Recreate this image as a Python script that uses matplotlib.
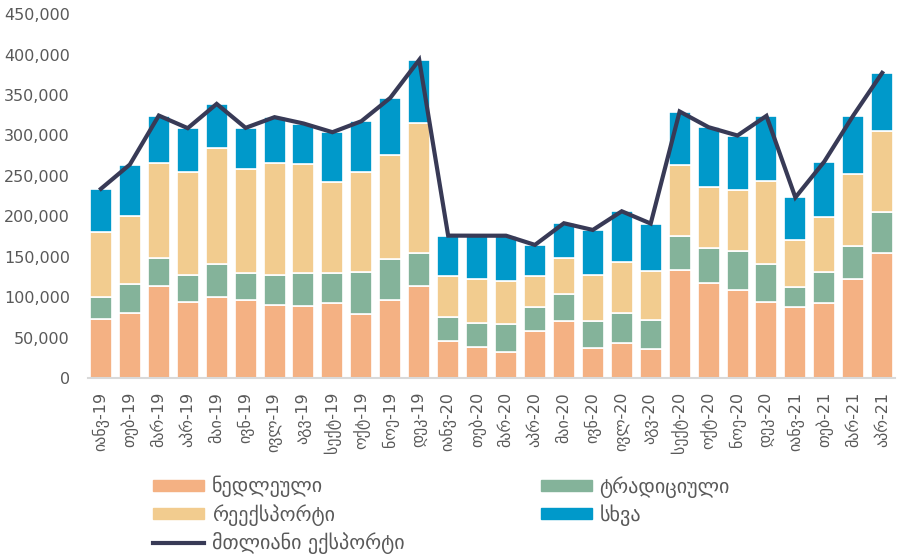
import matplotlib.pyplot as plt
import numpy as np
from matplotlib.patches import Patch
from matplotlib.lines import Line2D
from matplotlib.ticker import FuncFormatter

plt.rcParams['font.family'] = ['DejaVu Sans']

months = ['იანვ-19', 'თებ-19', 'მარ-19', 'აპრ-19', 'მაი-19', 'ივნ-19', 'ივლ-19',
          'აგვ-19', 'სექტ-19', 'ოქტ-19', 'ნოე-19', 'დეკ-19',
          'იანვ-20', 'თებ-20', 'მარ-20', 'აპრ-20', 'მაი-20', 'ივნ-20', 'ივლ-20',
          'აგვ-20', 'სექტ-20', 'ოქტ-20', 'ნოე-20', 'დეკ-20',
          'იანვ-21', 'თებ-21', 'მარ-21', 'აპრ-21']

# thousand USD
raw = [72.6, 80.0, 114.3, 94.5, 99.8, 96.5, 90.3, 89.5, 92.4, 78.8, 96.5, 114.3,
       46.2, 38.0, 31.8, 58.6, 71.0, 36.7, 42.9, 35.9, 133.7, 118.0, 108.9, 94.5,
       87.5, 93.2, 122.5, 154.7]
traditional = [28.0, 36.3, 33.8, 33.0, 40.9, 33.9, 37.6, 40.0, 37.1, 52.0, 50.4, 40.8,
               29.7, 30.5, 35.0, 28.9, 33.0, 34.3, 37.5, 35.9, 42.4, 42.9, 47.9, 46.6,
               24.8, 37.6, 41.3, 51.1]
reexport = [79.6, 84.6, 117.5, 127.0, 144.3, 128.2, 137.7, 135.3, 112.6, 124.5, 129.5, 160.1,
            50.7, 54.0, 53.7, 38.7, 44.1, 56.5, 63.6, 60.2, 87.1, 75.1, 75.9, 102.7,
            58.2, 68.0, 88.7, 100.2]
other = [53.6, 63.1, 59.0, 54.5, 54.0, 50.8, 57.0, 49.5, 61.9, 62.3, 70.1, 78.3,
         49.5, 53.5, 55.5, 38.4, 43.3, 55.6, 62.2, 59.0, 66.4, 74.2, 67.2, 80.4,
         52.8, 68.9, 72.1, 71.4]
total = [234.0, 264.0, 324.6, 309.0, 339.0, 309.4, 322.6, 314.8, 304.0, 317.6, 346.5, 393.5,
         176.1, 176.0, 176.0, 164.6, 191.4, 183.1, 206.2, 191.0, 329.6, 310.2, 299.9, 324.2,
         223.3, 267.7, 324.6, 377.4]

c_raw = '#F4B183'
c_trad = '#84B39A'
c_reexp = '#F2CC8F'
c_other = '#0099CA'
c_line = '#383A56'
c_text = '#595959'

x = np.arange(len(months))
raw_v = np.array(raw) * 1000
trad_v = np.array(traditional) * 1000
reexp_v = np.array(reexport) * 1000
other_v = np.array(other) * 1000

fig = plt.figure(figsize=(8.97, 5.58), dpi=100)
ax = fig.add_axes([0.098, 0.3226, 0.9, 0.652])

w = 0.76
ax.bar(x, raw_v, w, color=c_raw, edgecolor='white', linewidth=1.2)
ax.bar(x, trad_v, w, bottom=raw_v, color=c_trad, edgecolor='white', linewidth=1.2)
ax.bar(x, reexp_v, w, bottom=raw_v + trad_v, color=c_reexp, edgecolor='white', linewidth=1.2)
ax.bar(x, other_v, w, bottom=raw_v + trad_v + reexp_v, color=c_other, edgecolor='white', linewidth=1.2)
ax.plot(x, np.array(total) * 1000, color=c_line, lw=3, solid_joinstyle='miter', zorder=5)

ax.set_xlim(-0.45, 27.45)
ax.set_ylim(0, 450000)
ax.set_yticks(np.arange(0, 450001, 50000))
ax.yaxis.set_major_formatter(FuncFormatter(lambda v, p: f'{int(v):,}'))
ax.set_xticks(x)
ax.set_xticklabels(months, rotation=90)
ax.tick_params(axis='both', length=0, colors=c_text, labelsize=11.5)
ax.tick_params(axis='y', pad=13)
ax.tick_params(axis='x', pad=10)
for s in ['top', 'right', 'left']:
    ax.spines[s].set_visible(False)
ax.spines['bottom'].set_color('#D9D9D9')
ax.spines['bottom'].set_linewidth(1.5)

leg_kw = dict(loc='upper left', frameon=False, fontsize=14.5, labelcolor=c_text,
              handlelength=2.55, handleheight=0.5, labelspacing=0.32,
              handletextpad=0.36, borderaxespad=0, borderpad=0)
fig.legend([Patch(color=c_raw), Patch(color=c_reexp),
            Line2D([], [], color=c_line, lw=3)],
           ['ნედლეული', 'რეექსპორტი', 'მთლიანი ექსპორტი'],
           bbox_to_anchor=(0.1706, 0.147), **leg_kw)
fig.legend([Patch(color=c_trad), Patch(color=c_other)],
           ['ტრადიციული', 'სხვა'],
           bbox_to_anchor=(0.603, 0.147), **leg_kw)

fig.savefig('out.png', dpi=100)
